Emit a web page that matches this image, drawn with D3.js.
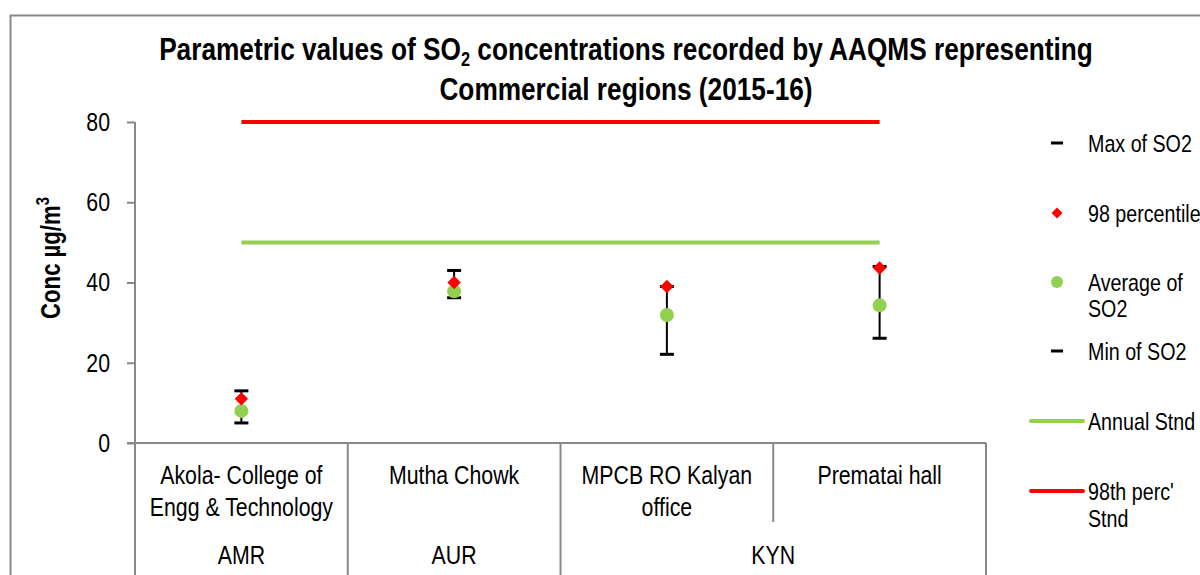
<!DOCTYPE html>
<html><head><meta charset="utf-8">
<script src="https://cdn.jsdelivr.net/npm/d3@7"></script>
<style>
body{margin:0;background:#fff;}
text{font-family:"Liberation Sans Narrow","Liberation Sans",Arial,sans-serif;fill:#000;}
</style></head>
<body><svg id="c" width="1200" height="575"></svg>
<script>
const stations = ["Akola- College of|Engg & Technology","Mutha Chowk","MPCB RO Kalyan|office","Prematai hall"];
const groups = [{name:"AMR",span:1},{name:"AUR",span:1},{name:"KYN",span:2}];
const maxSO2 = [13, 43, 39, 44];
const perc98 = [11, 40, 39, 43.6];
const avgSO2 = [8, 37.8, 31.9, 34.3];
const minSO2 = [5, 36.2, 22.1, 26.1];
const annualStnd = 50;
const percStnd = 80;
const yTicks = [0,20,40,60,80];

const SX = 0.82; // narrow-font emulation
const svg = d3.select("#c");
const L=135, R=986, T=122, B=443;
const x = d3.scaleBand().domain(d3.range(stations.length)).range([L,R]).padding(0);
const y = d3.scaleLinear().domain([0,80]).range([B,T]);
const cx = i => x(i)+x.bandwidth()/2;

function txt(parent, px, py, str, size, anchor, bold){
  const t = parent.append("text").attr("transform",`translate(${px},${py}) scale(${SX},1)`)
    .attr("text-anchor",anchor||"start").style("font-size",size+"px");
  if(bold) t.style("font-weight","bold");
  if(str!==null) t.text(str);
  return t;
}

// outer frame
svg.append("path").attr("d","M10.5,575 V15.5 H1200").attr("fill","none").attr("stroke","#888").attr("stroke-width",2);

// title
const title = txt(svg,626,60,null,32,"middle",true);
title.append("tspan").text("Parametric values of SO");
title.append("tspan").text("2").attr("dy",6).style("font-size","20px");
title.append("tspan").text(" concentrations recorded by AAQMS representing").attr("dy",-6);
txt(svg,626,100,"Commercial regions (2015-16)",32,"middle",true);

// y axis
const ya = svg.append("g").attr("transform",`translate(${L},0)`)
  .call(d3.axisLeft(y).tickValues(yTicks).tickSize(8).tickPadding(22));
ya.select(".domain").attr("stroke","#888").attr("stroke-width",2).attr("d",`M0,${T}V575`);
ya.selectAll(".tick line").attr("stroke","#888").attr("stroke-width",2);
ya.selectAll(".tick text").style("font-size","26px").attr("font-family",null)
  .attr("transform",`scale(${SX},1)`).attr("x",-25/SX);

// y label
const yl = svg.append("text").attr("transform",`translate(60,258) rotate(-90) scale(${SX},1)`).attr("text-anchor","middle")
  .style("font-size","27px").style("font-weight","bold");
yl.append("tspan").text("Conc µg/m");
yl.append("tspan").text("3").attr("dy",-11).style("font-size","18px");

// x axis baseline
svg.append("line").attr("x1",L-8).attr("x2",R).attr("y1",B).attr("y2",B).attr("stroke","#888").attr("stroke-width",2);

// vertical separators
const seps = [];
let acc=0;
groups.forEach(g=>{acc+=g.span; seps.push(acc);});
d3.range(1,stations.length+1).forEach(i=>{
  const xx = i<stations.length ? x(i) : R;
  const full = seps.includes(i);
  svg.append("line").attr("x1",xx).attr("x2",xx).attr("y1",B).attr("y2",full?575:522)
    .attr("stroke","#888").attr("stroke-width",2);
});

// station labels
stations.forEach((s,i)=>{
  const lines = s.split("|");
  const t = txt(svg,cx(i),484,null,26,"middle");
  lines.forEach((ln,j)=>t.append("tspan").attr("x",0).attr("dy",j?32:0).text(ln));
});
// group labels
let start=0;
groups.forEach(g=>{
  const x0 = x(start), x1 = x(start+g.span-1)+x.bandwidth();
  txt(svg,(x0+x1)/2,564,g.name,26,"middle");
  start+=g.span;
});

// standard lines
svg.append("line").attr("x1",cx(0)).attr("x2",cx(stations.length-1)).attr("y1",y(percStnd)).attr("y2",y(percStnd))
  .attr("stroke","#ff0000").attr("stroke-width",4);
svg.append("line").attr("x1",cx(0)).attr("x2",cx(stations.length-1)).attr("y1",y(annualStnd)).attr("y2",y(annualStnd))
  .attr("stroke","#92d050").attr("stroke-width",4);

// error bars
stations.forEach((s,i)=>{
  const g = svg.append("g");
  g.append("line").attr("x1",cx(i)).attr("x2",cx(i)).attr("y1",y(maxSO2[i])).attr("y2",y(minSO2[i])).attr("stroke","#000").attr("stroke-width",2);
  [maxSO2[i],minSO2[i]].forEach(v=>g.append("line").attr("x1",cx(i)-7).attr("x2",cx(i)+7).attr("y1",y(v)).attr("y2",y(v)).attr("stroke","#000").attr("stroke-width",3));
});
// avg circles
svg.selectAll("circle.avg").data(avgSO2).join("circle").attr("cx",(d,i)=>cx(i)).attr("cy",d=>y(d)).attr("r",7).attr("fill","#92d050");
// diamonds
svg.selectAll("path.p98").data(perc98).join("path")
  .attr("d",d3.symbol(d3.symbolSquare,90))
  .attr("transform",(d,i)=>`translate(${cx(i)},${y(d)}) rotate(45)`).attr("fill","#ff0000");

// legend
const lx=1057, tx=1088, fs=24, off=8.5;
const leg = svg.append("g");
leg.append("line").attr("x1",lx-6).attr("x2",lx+6).attr("y1",143).attr("y2",143).attr("stroke","#000").attr("stroke-width",3);
txt(leg,tx,143+off,"Max of SO2",fs);
leg.append("path").attr("d",d3.symbol(d3.symbolSquare,60)).attr("transform",`translate(${lx},213) rotate(45)`).attr("fill","#ff0000");
txt(leg,tx,213+off,"98 percentile",fs);
leg.append("circle").attr("cx",lx).attr("cy",282).attr("r",6).attr("fill","#92d050");
txt(leg,tx,282+off,"Average of",fs);
txt(leg,tx,308+off,"SO2",fs);
leg.append("line").attr("x1",lx-6).attr("x2",lx+6).attr("y1",351).attr("y2",351).attr("stroke","#000").attr("stroke-width",3);
txt(leg,tx,351+off,"Min of SO2",fs);
leg.append("line").attr("x1",1031).attr("x2",1083).attr("y1",421).attr("y2",421).attr("stroke","#92d050").attr("stroke-width",4).attr("stroke-linecap","round");
txt(leg,tx,421+off,"Annual Stnd",fs);
leg.append("line").attr("x1",1031).attr("x2",1083).attr("y1",491).attr("y2",491).attr("stroke","#ff0000").attr("stroke-width",4).attr("stroke-linecap","round");
txt(leg,tx,491+off,"98th perc'",fs);
txt(leg,tx,518+off,"Stnd",fs);
</script></body></html>
